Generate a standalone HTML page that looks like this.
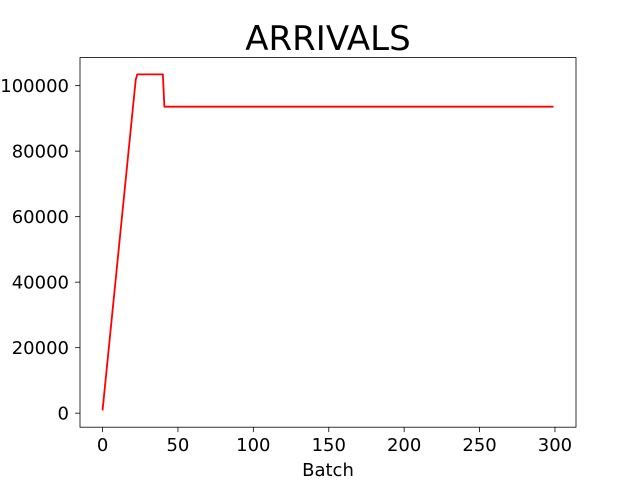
<!DOCTYPE html>
<html><head><meta charset="utf-8"><style>
body{margin:0;background:#fff}
svg text{font-family:"DejaVu Sans","Liberation Sans",sans-serif;fill:#000}
</style></head><body>
<svg id="chart" width="640" height="480" viewBox="0 0 640 480">
<rect width="640" height="480" fill="#fff"/>
<text x="328" y="50" font-size="34" text-anchor="middle">ARRIVALS</text>
<g id="plot"></g>
<rect x="80" y="57.6" width="496" height="369.6" fill="none" stroke="#000" stroke-width="0.8"/>
<text x="328" y="476" font-size="18" text-anchor="middle">Batch</text>
</svg>
<script>
const batches = [0, 22, 23, 40, 41, 299];
const arrivals = [850, 101800, 103434, 103434, 93580, 93580];
const xTicks = [0, 50, 100, 150, 200, 250, 300];
const yTicks = [0, 20000, 40000, 60000, 80000, 100000];

const L=80,R=576,T=57.6,B=427.2;
const xmin=-14.95,xmax=313.95;
const ymin=-4281,ymax=108563;
const sx=v=>L+(v-xmin)/(xmax-xmin)*(R-L);
const sy=v=>B-(v-ymin)/(ymax-ymin)*(B-T);
const NS='http://www.w3.org/2000/svg';
const g=document.getElementById('plot');
function mk(t,a){const e=document.createElementNS(NS,t);for(const k in a)e.setAttribute(k,a[k]);g.appendChild(e);return e;}
xTicks.forEach(v=>{
  const l=mk('line',{x1:sx(v),x2:sx(v),y1:B,y2:B+4.9,stroke:'#000','stroke-width':0.8});
  
  
  const t=mk('text',{x:sx(v),y:B+24,'font-size':18,'text-anchor':'middle'});
  t.textContent=v;
  
  
});
yTicks.forEach(v=>{
  const l=mk('line',{x1:L-4.9,x2:L,y1:sy(v),y2:sy(v),stroke:'#000','stroke-width':0.8});
  
  
  const t=mk('text',{x:L-11,y:sy(v)+6.5,'font-size':18,'text-anchor':'end'});
  t.textContent=v;
  
  
});
const p=mk('polyline',{points:batches.map((b,i)=>sx(b)+','+sy(arrivals[i])).join(' '),fill:'none',stroke:'#ff0000','stroke-width':1.8,'stroke-linejoin':'round'});


</script>
</body></html>
